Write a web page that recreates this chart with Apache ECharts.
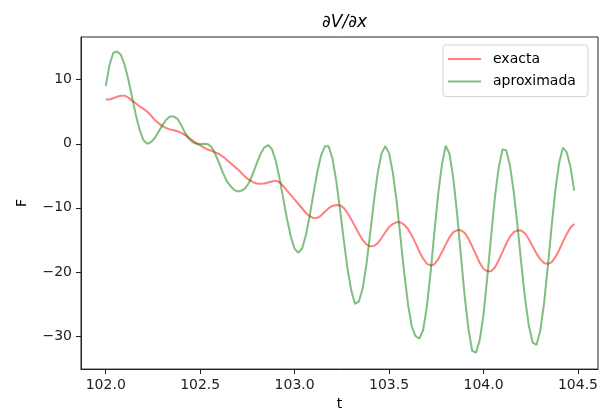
<!DOCTYPE html>
<html>
<head>
<meta charset="utf-8">
<script src="https://cdn.jsdelivr.net/npm/echarts@6/dist/echarts.min.js"></script>
<style>html,body{margin:0;padding:0;background:#fff}#c{width:609px;height:416px}</style>
</head>
<body>
<div id="c"></div>
<script>
var t = [
102.00,102.02,102.04,102.06,102.08,102.10,102.12,102.14,102.16,102.18,
102.20,102.22,102.24,102.26,102.28,102.30,102.32,102.34,102.36,102.38,
102.40,102.42,102.44,102.46,102.48,102.50,102.52,102.54,102.56,102.58,
102.60,102.62,102.64,102.66,102.68,102.70,102.72,102.74,102.76,102.78,
102.80,102.82,102.84,102.86,102.88,102.90,102.92,102.94,102.96,102.98,
103.00,103.02,103.04,103.06,103.08,103.10,103.12,103.14,103.16,103.18,
103.20,103.22,103.24,103.26,103.28,103.30,103.32,103.34,103.36,103.38,
103.40,103.42,103.44,103.46,103.48,103.50,103.52,103.54,103.56,103.58,
103.60,103.62,103.64,103.66,103.68,103.70,103.72,103.74,103.76,103.78,
103.80,103.82,103.84,103.86,103.88,103.90,103.92,103.94,103.96,103.98,
104.00,104.02,104.04,104.06,104.08,104.10,104.12,104.14,104.16,104.18,
104.20,104.22,104.24,104.26,104.28,104.30,104.32,104.34,104.36,104.38,
104.40,104.42,104.44,104.46,104.48
];
var exacta = [
6.9,6.9,7.1,7.35,7.5,7.5,7.2,6.7,6.3,5.8,
5.45,5.0,4.4,3.7,3.2,2.75,2.45,2.25,2.1,1.95,
1.7,1.35,0.95,0.5,0.1,-0.25,-0.6,-0.9,-1.1,-1.35,
-1.6,-2.0,-2.5,-3.0,-3.5,-4.0,-4.6,-5.2,-5.65,-6.0,
-6.2,-6.25,-6.2,-6.05,-5.9,-5.75,-6.0,-6.6,-7.3,-8.0,
-8.7,-9.4,-10.1,-10.8,-11.3,-11.6,-11.55,-11.2,-10.6,-10.05,
-9.7,-9.55,-9.6,-10.0,-10.8,-11.8,-12.9,-14.0,-15.0,-15.7,
-16.0,-15.95,-15.5,-14.7,-13.8,-13.0,-12.5,-12.25,-12.25,-12.6,
-13.3,-14.3,-15.5,-16.8,-17.9,-18.7,-19.0,-18.8,-18.0,-16.9,
-15.7,-14.6,-13.8,-13.5,-13.5,-13.9,-14.8,-16.0,-17.3,-18.6,
-19.5,-19.9,-19.9,-19.3,-18.2,-16.9,-15.6,-14.5,-13.8,-13.5,
-13.55,-14.0,-14.9,-16.0,-17.1,-18.0,-18.6,-18.75,-18.5,-17.7,
-16.6,-15.3,-14.1,-13.1,-12.5
];
var aproximada = [
9.0,12.3,14.2,14.4,13.9,12.3,10.0,7.2,4.4,2.1,
0.55,0.0,0.25,0.9,1.9,2.9,3.75,4.25,4.25,3.9,
2.9,1.7,0.8,0.25,0.0,-0.05,0.0,-0.05,-0.5,-1.6,
-3.0,-4.5,-5.8,-6.6,-7.2,-7.45,-7.3,-6.9,-6.0,-4.6,
-3.0,-1.56,-0.56,-0.2,-0.84,-2.66,-5.38,-8.6,-11.8,-14.5,
-16.4,-17.0,-16.3,-14.2,-11.2,-7.7,-4.4,-1.8,-0.4,-0.4,
-2.3,-5.7,-10.2,-15.0,-19.5,-22.9,-25.0,-24.6,-22.6,-18.85,
-14.0,-8.9,-4.5,-1.5,-0.4,-1.46,-4.5,-9.0,-14.5,-20.1,
-25.0,-28.5,-30.0,-30.4,-29.1,-25.4,-20.0,-13.8,-7.8,-3.2,
-0.3,-1.6,-5.4,-10.9,-17.4,-23.7,-28.9,-32.3,-32.6,-30.6,
-26.6,-20.8,-14.5,-8.4,-3.75,-0.9,-1.0,-3.4,-7.5,-12.8,
-18.7,-24.2,-28.4,-31.0,-31.4,-29.2,-25.0,-19.3,-13.0,-7.3,
-3.0,-0.6,-1.3,-3.6,-7.3
];
var xTicks = [102.0, 102.5, 103.0, 103.5, 104.0, 104.5];
var yTicks = [-30, -20, -10, 0, 10];
var seriesNames = ['exacta', 'aproximada'];
var titleText = '\u2202V/\u2202x';

function pairs(xs, ys) { return xs.map(function (x, i) { return [x, ys[i]]; }); }
var FONT = 'DejaVu Sans';
var chart = echarts.init(document.getElementById('c'), null, {renderer: 'canvas'});
chart.setOption({
  animation: false,
  backgroundColor: '#fff',
  title: {
    text: titleText, left: 339.5, top: 9, textAlign: 'center',
    textStyle: {fontFamily: FONT, fontSize: 17, fontStyle: 'italic', fontWeight: 'normal', color: '#000'}
  },
  grid: {left: 81, right: 11, top: 37, bottom: 43, show: true, borderColor: '#222', borderWidth: 1, backgroundColor: 'transparent', containLabel: false},
  legend: {
    orient: 'vertical', left: 443, top: 45, padding: [7, 12, 8, 5], itemGap: 8.5,
    itemWidth: 33, itemHeight: 2,
    backgroundColor: 'rgba(255,255,255,0.8)', borderColor: '#d3d3d3', borderWidth: 1, borderRadius: 3,
    textStyle: {fontFamily: FONT, fontSize: 14, color: '#000', padding: [0, 0, 0, 7], lineHeight: 14},
    data: seriesNames.map(function (n) { return {name: n, icon: 'rect'}; }),
    itemStyle: {borderWidth: 0}
  },
  xAxis: {
    type: 'value', min: 101.869, max: 104.606,
    name: 't', nameLocation: 'middle', nameGap: 25,
    nameTextStyle: {fontFamily: FONT, fontSize: 14, color: '#000'},
    axisLine: {show: true, onZero: false, lineStyle: {color: '#222', width: 1}},
    splitLine: {show: false},
    axisTick: {show: true, inside: false, length: 5, customValues: xTicks, lineStyle: {color: '#222', width: 1}},
    axisLabel: {customValues: xTicks, margin: 9, fontFamily: FONT, fontSize: 14, color: '#222',
      formatter: function (v) { return Number(v).toFixed(1); }}
  },
  yAxis: {
    type: 'value', min: -35.16, max: 16.66,
    name: 'F', nameLocation: 'middle', nameGap: 52,
    nameTextStyle: {fontFamily: FONT, fontSize: 14, color: '#000'},
    axisLine: {show: true, onZero: false, lineStyle: {color: '#222', width: 1}},
    splitLine: {show: false},
    axisTick: {show: true, inside: false, length: 5, customValues: yTicks, lineStyle: {color: '#222', width: 1}},
    axisLabel: {customValues: yTicks, margin: 9, fontFamily: FONT, fontSize: 14, color: '#222',
      formatter: function (v) { return v < 0 ? '\u2212' + Math.abs(v) : String(v); }}
  },
  series: [
    {name: seriesNames[0], type: 'line', data: pairs(t, exacta), symbol: 'none', smooth: false,
     color: 'rgba(255,0,0,0.5)', lineStyle: {width: 2, color: 'rgba(255,0,0,0.5)'}, itemStyle: {color: 'rgba(255,0,0,0.5)'}},
    {name: seriesNames[1], type: 'line', data: pairs(t, aproximada), symbol: 'none', smooth: false,
     color: 'rgba(0,128,0,0.5)', lineStyle: {width: 2, color: 'rgba(0,128,0,0.5)'}, itemStyle: {color: 'rgba(0,128,0,0.5)'}}
  ]
});
</script>
</body>
</html>
